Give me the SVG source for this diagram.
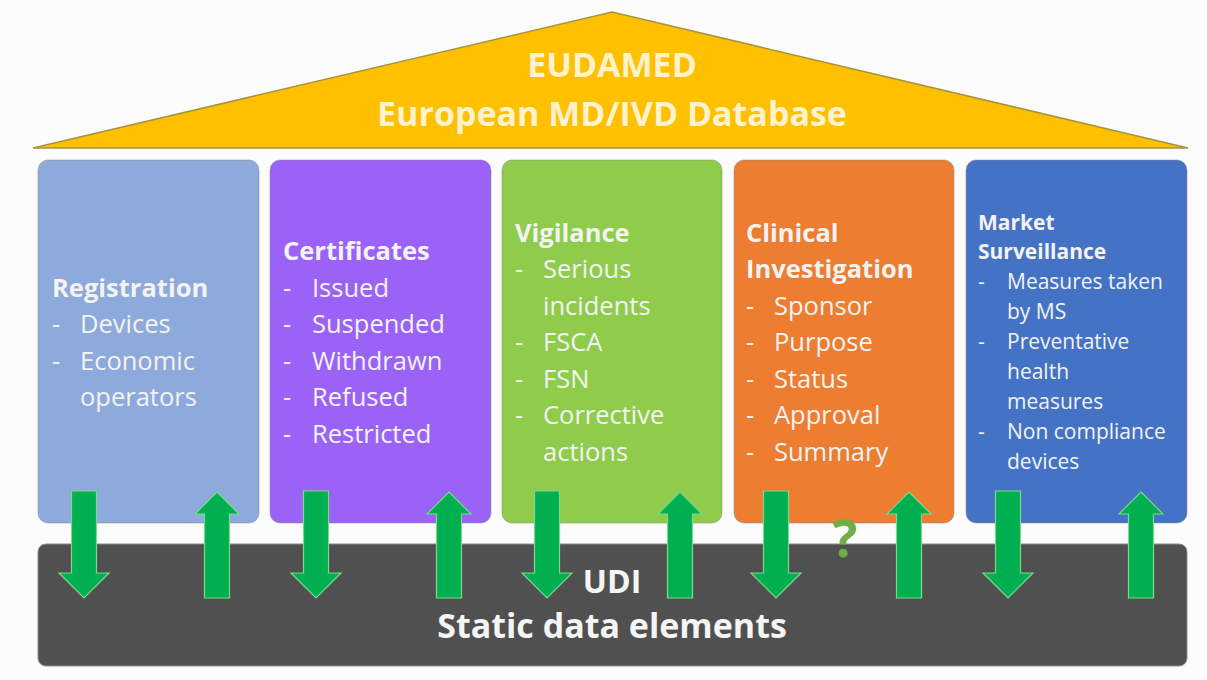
<svg xmlns="http://www.w3.org/2000/svg" xmlns:xlink="http://www.w3.org/1999/xlink" width="1207" height="680" viewBox="0 0 1207 680">
<style>
.t{font-family:"Open Sans","Liberation Sans",sans-serif;fill:#F3F3F3}
.b{font-weight:bold}
.h{font-size:25.5px}
.s{font-size:21px}
.col{stroke:#8a8a8a;stroke-opacity:0.5;stroke-width:1}
.arr{fill:#00B050;stroke:#7ED98F;stroke-width:1.2}
</style>
<defs>
<path id="down" d="M-12.5,0 H12.5 V82 H25 L0,107 L-25,82 H-12.5 Z"/>
<path id="up" d="M0,0 L22,22 H12.5 V106 H-12.5 V22 H-22 Z"/>
</defs>
<rect width="1207" height="680" fill="#FCFCFC"/>

<g id="roof">
<polygon points="33,148 612,12 1188,148" fill="#FFC000" stroke="#A89440" stroke-width="1.5"/>
<text class="b" x="612" y="77" text-anchor="middle" font-family="'Open Sans','Liberation Sans',sans-serif" font-size="34" fill="#FFF2CC">EUDAMED</text>
<text class="b" x="612" y="126" text-anchor="middle" font-family="'Open Sans','Liberation Sans',sans-serif" font-size="34" fill="#FFF2CC">European MD/IVD Database</text>
</g>

<g id="col-registration">
<rect class="col" x="38" y="160" width="221" height="363" rx="10" fill="#8EA9DB"/>
<text class="t b h" x="52" y="297">Registration</text>
<text class="t h" x="52" y="333">-</text><text class="t h" x="80" y="333">Devices</text>
<text class="t h" x="52" y="370">-</text><text class="t h" x="80" y="370">Economic</text>
<text class="t h" x="80" y="406">operators</text>
</g>

<g id="col-certificates">
<rect class="col" x="270" y="160" width="221" height="363" rx="10" fill="#9A62F7"/>
<text class="t b h" x="283" y="260">Certificates</text>
<text class="t h" x="283" y="297">-</text><text class="t h" x="312" y="297">Issued</text>
<text class="t h" x="283" y="333">-</text><text class="t h" x="312" y="333">Suspended</text>
<text class="t h" x="283" y="370">-</text><text class="t h" x="312" y="370">Withdrawn</text>
<text class="t h" x="283" y="406">-</text><text class="t h" x="312" y="406">Refused</text>
<text class="t h" x="283" y="443">-</text><text class="t h" x="312" y="443">Restricted</text>
</g>

<g id="col-vigilance">
<rect class="col" x="502" y="160" width="220" height="363" rx="10" fill="#8FCC4B"/>
<text class="t b h" x="515" y="242">Vigilance</text>
<text class="t h" x="515" y="278">-</text><text class="t h" x="543" y="278">Serious</text>
<text class="t h" x="543" y="315">incidents</text>
<text class="t h" x="515" y="351">-</text><text class="t h" x="543" y="351">FSCA</text>
<text class="t h" x="515" y="388">-</text><text class="t h" x="543" y="388">FSN</text>
<text class="t h" x="515" y="424">-</text><text class="t h" x="543" y="424">Corrective</text>
<text class="t h" x="543" y="461">actions</text>
</g>

<g id="col-clinical">
<rect class="col" x="734" y="160" width="220" height="363" rx="10" fill="#ED7D31"/>
<text class="t b h" x="746" y="242">Clinical</text>
<text class="t b h" x="746" y="278">Investigation</text>
<text class="t h" x="746" y="315">-</text><text class="t h" x="774" y="315">Sponsor</text>
<text class="t h" x="746" y="351">-</text><text class="t h" x="774" y="351">Purpose</text>
<text class="t h" x="746" y="388">-</text><text class="t h" x="774" y="388">Status</text>
<text class="t h" x="746" y="424">-</text><text class="t h" x="774" y="424">Approval</text>
<text class="t h" x="746" y="461">-</text><text class="t h" x="774" y="461">Summary</text>
</g>

<g id="col-market">
<rect class="col" x="966" y="160" width="221" height="363" rx="10" fill="#4472C4"/>
<text class="t b s" x="978" y="230">Market</text>
<text class="t b s" x="978" y="259">Surveillance</text>
<text class="t s" x="978" y="289">-</text><text class="t s" x="1007" y="289">Measures taken</text>
<text class="t s" x="1007" y="319">by MS</text>
<text class="t s" x="978" y="349">-</text><text class="t s" x="1007" y="349">Preventative</text>
<text class="t s" x="1007" y="379">health</text>
<text class="t s" x="1007" y="409">measures</text>
<text class="t s" x="978" y="439">-</text><text class="t s" x="1007" y="439">Non compliance</text>
<text class="t s" x="1007" y="469">devices</text>
</g>

<g id="base">
<rect x="38" y="544" width="1149" height="122" rx="8" fill="#505050" stroke="#8a8a8a" stroke-width="1"/>
<text x="612" y="593" text-anchor="middle" font-family="'Open Sans','Liberation Sans',sans-serif" font-weight="bold" font-size="32" fill="#F5F5F5">UDI</text>
<text x="612" y="638" text-anchor="middle" font-family="'Open Sans','Liberation Sans',sans-serif" font-weight="bold" font-size="34" fill="#F5F5F5">Static data elements</text>
</g>

<g id="connectors">
<use xlink:href="#down" class="arr" x="84" y="491"/>
<use xlink:href="#up" class="arr" x="217" y="492"/>
<use xlink:href="#down" class="arr" x="316" y="491"/>
<use xlink:href="#up" class="arr" x="449" y="492"/>
<use xlink:href="#down" class="arr" x="547" y="491"/>
<use xlink:href="#up" class="arr" x="680" y="492"/>
<use xlink:href="#down" class="arr" x="776" y="491"/>
<use xlink:href="#up" class="arr" x="909" y="492"/>
<use xlink:href="#down" class="arr" x="1008" y="491"/>
<use xlink:href="#up" class="arr" x="1141" y="492"/>
</g>

<g id="question">
<text x="845" y="557" text-anchor="middle" font-family="'Open Sans','Liberation Sans',sans-serif" font-weight="bold" font-size="52" fill="#70AD47">?</text>
</g>
</svg>
